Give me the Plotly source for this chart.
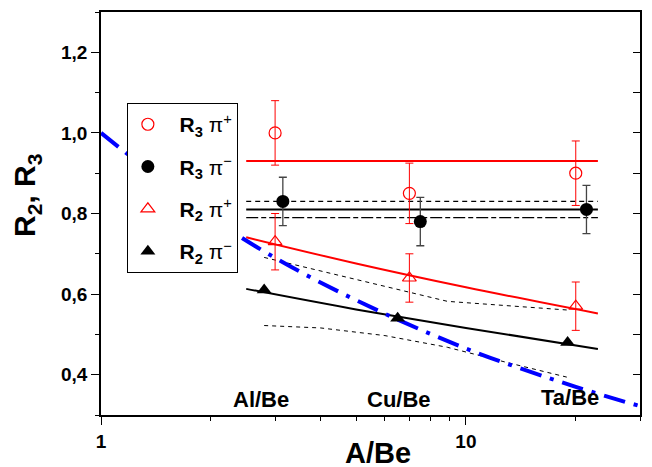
import math
import plotly.graph_objects as go

# ---- data ----
x_r3p = [3.0, 7.0, 20.0]
y_r3p = [1.00, 0.85, 0.90]
e_r3p = [0.08, 0.075, 0.08]

x_r3m = [3.15, 7.5, 21.4]
y_r3m = [0.83, 0.78, 0.81]
e_r3m = [0.06, 0.06, 0.06]

x_r2p = [3.0, 7.0, 20.0]
y_r2p = [0.73, 0.64, 0.57]
e_r2p = [0.07, 0.06, 0.06]

x_r2m = [2.8, 6.5, 19.0]
y_r2m = [0.61, 0.54, 0.48]

# fit lines
x_fit = [2.5, 23.0]
y_fit_r3p = [0.93, 0.93]
y_fit_r3m = [0.81, 0.81]
y_band_r3m_hi = [0.83, 0.83]
y_band_r3m_lo = [0.79, 0.79]

x_curve = [2.5, 5.0, 10.0, 23.0]
y_fit_r2p = [0.741, 0.676, 0.617, 0.552]
y_fit_r2m = [0.613, 0.562, 0.516, 0.464]

x_band_hi = [2.8, 5.0, 8.9, 19.3]
y_band_hi = [0.691, 0.637, 0.582, 0.560]
x_band_lo = [2.8, 4.0, 6.0, 8.9, 13.0, 18.9]
y_band_lo = [0.522, 0.516, 0.497, 0.468, 0.430, 0.394]

x_blue = [1.0, 1.5, 2.0, 3.0, 5.0, 10.0, 20.0, 30.0]
y_blue = [1.0, 0.874, 0.79, 0.69, 0.585, 0.465, 0.37, 0.322]

labels = ["Al/Be", "Cu/Be", "Ta/Be"]
label_x = [2.75, 6.56, 19.3]
label_y = [0.338, 0.338, 0.343]

FONT = "Arial, Liberation Sans, sans-serif"
RED = "#ff0000"
PAD = "&nbsp;&nbsp;"

fig = go.Figure()

# fit lines
fig.add_trace(go.Scatter(x=x_fit, y=y_band_r3m_hi, mode="lines", showlegend=False,
                         line=dict(color="black", width=1.3, dash="5px,4px")))
fig.add_trace(go.Scatter(x=x_fit, y=y_band_r3m_lo, mode="lines", showlegend=False,
                         line=dict(color="black", width=1.3, dash="12px,3px,5px,3px")))
fig.add_trace(go.Scatter(x=x_fit, y=y_fit_r3m, mode="lines", showlegend=False,
                         line=dict(color="black", width=2)))
fig.add_trace(go.Scatter(x=x_fit, y=y_fit_r3p, mode="lines", showlegend=False,
                         line=dict(color=RED, width=2)))
fig.add_trace(go.Scatter(x=x_band_hi, y=y_band_hi, mode="lines", showlegend=False,
                         line=dict(color="black", width=1, dash="4px,4px")))
fig.add_trace(go.Scatter(x=x_band_lo, y=y_band_lo, mode="lines", showlegend=False,
                         line=dict(color="black", width=1, dash="4px,4px")))
fig.add_trace(go.Scatter(x=x_curve, y=y_fit_r2p, mode="lines", showlegend=False,
                         line=dict(color=RED, width=2, shape="spline")))
fig.add_trace(go.Scatter(x=x_curve, y=y_fit_r2m, mode="lines", showlegend=False,
                         line=dict(color="black", width=2, shape="spline")))
fig.add_trace(go.Scatter(x=x_blue, y=y_blue, mode="lines", showlegend=False,
                         line=dict(color="#0000ff", width=4, dash="22px,9px,4px,9px",
                                   shape="spline")))

# data markers
fig.add_trace(go.Scatter(
    x=x_r3p, y=y_r3p, mode="markers", name=PAD + "<b>R</b><sub><b>3</b></sub> π<sup>+</sup>",
    legendgroup="a",
    marker=dict(symbol="circle-open", size=12, color=RED, line=dict(width=1.2, color=RED)),
    error_y=dict(type="data", array=e_r3p, color=RED, thickness=1, width=4)))
fig.add_trace(go.Scatter(
    x=x_r3m, y=y_r3m, mode="markers", name=PAD + "<b>R</b><sub><b>3</b></sub> π<sup>−</sup>",
    legendgroup="b",
    marker=dict(symbol="circle", size=13, color="black"),
    error_y=dict(type="data", array=e_r3m, color="#444444", thickness=1.3, width=4)))
fig.add_trace(go.Scatter(
    x=x_r2p, y=y_r2p, mode="markers", name=PAD + "<b>R</b><sub><b>2</b></sub> π<sup>+</sup>",
    legendgroup="c",
    marker=dict(symbol="triangle-up-open", size=12, color=RED, line=dict(width=1.2, color=RED)),
    error_y=dict(type="data", array=e_r2p, color=RED, thickness=1, width=4)))
fig.add_trace(go.Scatter(
    x=x_r2m, y=y_r2m, mode="markers", name=PAD + "<b>R</b><sub><b>2</b></sub> π<sup>−</sup>",
    legendgroup="d",
    marker=dict(symbol="triangle-up", size=13, color="black")))

# helper trace for right axis
fig.add_trace(go.Scatter(x=[1.5], y=[1.25], yaxis="y2", mode="markers",
                         marker=dict(opacity=0), showlegend=False, hoverinfo="skip"))

for t, xx, yy in zip(labels, label_x, label_y):
    fig.add_annotation(x=math.log10(xx), y=yy, xref="x", yref="y", text="<b>%s</b>" % t,
                       showarrow=False, font=dict(size=22, color="black", family=FONT))

fig.add_annotation(xref="paper", yref="paper", x=0.513, y=-0.094, yanchor="middle",
                   text="<b>A/Be</b>", showarrow=False,
                   font=dict(size=29, color="black", family=FONT))
fig.add_annotation(xref="paper", yref="paper", x=-0.138, y=0.545, xanchor="center",
                   text="<b>R<sub>2</sub>, R<sub>3</sub></b>", textangle=-90, showarrow=False,
                   font=dict(size=30, color="black", family=FONT))

fig.update_layout(
    width=652, height=467,
    margin=dict(l=101, r=10, t=12, b=52),
    paper_bgcolor="white", plot_bgcolor="white",
    separators=",.",
    font=dict(family=FONT, color="black"),
    showlegend=True,
    legend=dict(x=0.048, y=0.774, xanchor="left", yanchor="top",
                bgcolor="white", bordercolor="black", borderwidth=1,
                font=dict(size=21, family=FONT, color="black"),
                tracegroupgap=12, itemsizing="trace"),
    xaxis=dict(type="log", range=[0, 1.4771], showgrid=False, zeroline=False,
               showline=True, linecolor="black", linewidth=1.5, mirror=True,
               tickmode="array", tickvals=[1, 10], ticktext=["<b>1</b>", "<b>10</b>"],
               ticks="outside", ticklen=8, tickwidth=1.3, tickcolor="black",
               tickfont=dict(size=19, family=FONT, color="black"),
               minor=dict(tickmode="array", tickvals=[2, 3, 4, 5, 6, 7, 8, 9, 20, 30],
                          ticks="outside", ticklen=4, tickwidth=1.3, tickcolor="black")),
    yaxis=dict(range=[0.3, 1.3], showgrid=False, zeroline=False,
               showline=True, linecolor="black", linewidth=1.5, mirror=True,
               tickmode="array", tickvals=[0.4, 0.6, 0.8, 1.0, 1.2],
               ticktext=["<b>0,4</b>", "<b>0,6</b>", "<b>0,8</b>", "<b>1,0</b>", "<b>1,2</b>"],
               ticks="outside", ticklen=8, tickwidth=1.3, tickcolor="black",
               tickfont=dict(size=19, family=FONT, color="black"),
               minor=dict(tickmode="array", tickvals=[0.3, 0.5, 0.7, 0.9, 1.1, 1.3],
                          ticks="outside", ticklen=4, tickwidth=1.3, tickcolor="black")),
    yaxis2=dict(range=[0.3, 1.3], overlaying="y", side="right", showgrid=False,
                zeroline=False, showline=False, showticklabels=False,
                tickmode="linear", tick0=0.3, dtick=0.1,
                ticks="inside", ticklen=7, tickwidth=1.3, tickcolor="black"),
)

fig.write_html("out.html", config={"displayModeBar": False},
               post_script="document.body.style.margin='0';")
